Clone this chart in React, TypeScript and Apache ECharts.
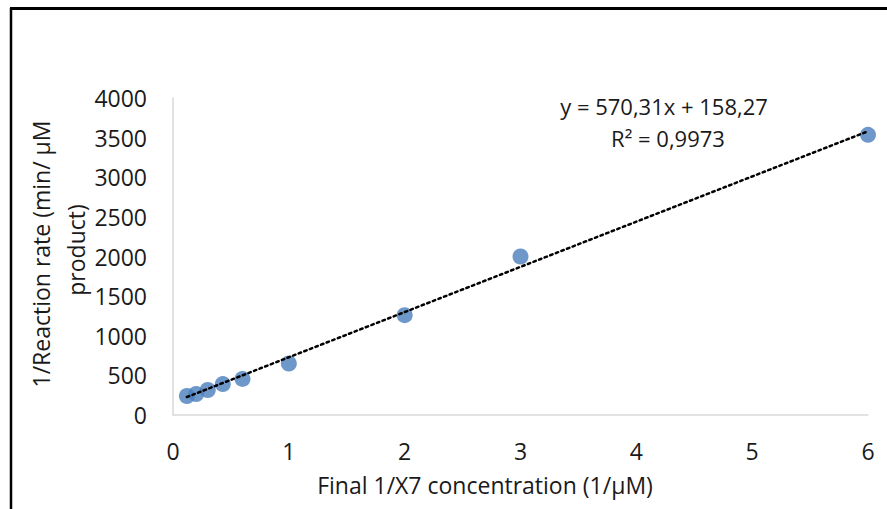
import React, { useEffect, useRef } from "react";
import * as echarts from "echarts";

const xValues = [0.12, 0.2, 0.3, 0.43, 0.6, 1, 2, 3, 6];
const yValues = [240, 265, 315, 390, 455, 650, 1260, 2000, 3535];
const trendSlope = 570.31;
const trendIntercept = 158.27;
const trendXRange = [0.12, 6];
const equationText = "y = 570,31x + 158,27";
const r2Text = "R² = 0,9973";
const xAxisTitle = "Final 1/X7 concentration (1/µM)";
const yAxisTitleLines = ["1/Reaction rate (min/ µM", "product)"];

const FONT = "'Open Sans', sans-serif";
const TEXT = "#1a1a1a";
const FS = 23;

export default function App() {
  const ref = useRef<HTMLDivElement>(null);
  useEffect(() => {
    if (!ref.current) return;
    const chart = echarts.init(ref.current, undefined, { renderer: "svg" });
    const points = xValues.map((x, i) => [x, yValues[i]]);
    const trend = trendXRange.map((x) => [x, trendSlope * x + trendIntercept]);
    chart.setOption({
      animation: false,
      backgroundColor: "#ffffff",
      grid: { left: 173, top: 98, right: 19, bottom: 94 },
      xAxis: {
        type: "value",
        min: 0,
        max: 6,
        interval: 1,
        axisLine: { show: true, lineStyle: { color: "#d9d9d9", width: 1.5 } },
        axisTick: { show: false },
        splitLine: { show: false },
        axisLabel: { color: TEXT, fontSize: FS, fontFamily: FONT, margin: 24, formatter: (v: number) => String(v) },
      },
      yAxis: {
        type: "value",
        min: 0,
        max: 4000,
        interval: 500,
        axisLine: { show: true, lineStyle: { color: "#d9d9d9", width: 1.5 } },
        axisTick: { show: false },
        splitLine: { show: false },
        axisLabel: { color: TEXT, fontSize: FS, fontFamily: FONT, margin: 26, formatter: (v: number) => String(v) },
      },
      series: [
        {
          type: "scatter",
          data: points,
          symbol: "circle",
          symbolSize: 16,
          itemStyle: { color: "#4a7ebb" },
          z: 2,
        },
        {
          type: "line",
          data: trend,
          symbol: "none",
          lineStyle: { color: "#000000", width: 2.5, type: [2.5, 3.5], cap: "round" },
          z: 3,
        },
      ],
      graphic: [
        {
          type: "line",
          shape: { x1: 11, y1: 8, x2: 11, y2: 509 },
          style: { stroke: "#000", lineWidth: 2.5 },
        },
        {
          type: "line",
          shape: { x1: 10, y1: 8.5, x2: 887, y2: 8.5 },
          style: { stroke: "#000", lineWidth: 3 },
        },
        {
          type: "text",
          x: 664,
          y: 106,
          style: { text: equationText, fill: TEXT, font: `22px ${FONT}`, textAlign: "center", textVerticalAlign: "middle" },
        },
        {
          type: "text",
          x: 668,
          y: 138,
          style: { text: r2Text, fill: TEXT, font: `22px ${FONT}`, textAlign: "center", textVerticalAlign: "middle" },
        },
        {
          type: "text",
          x: 485,
          y: 485,
          style: { text: xAxisTitle, fill: TEXT, font: `${FS}px ${FONT}`, textAlign: "center", textVerticalAlign: "middle" },
        },
        {
          type: "text",
          x: 41,
          y: 254,
          rotation: Math.PI / 2,
          style: { text: yAxisTitleLines[0], fill: TEXT, font: `${FS}px ${FONT}`, textAlign: "center", textVerticalAlign: "middle" },
        },
        {
          type: "text",
          x: 76,
          y: 250,
          rotation: Math.PI / 2,
          style: { text: yAxisTitleLines[1], fill: TEXT, font: `${FS}px ${FONT}`, textAlign: "center", textVerticalAlign: "middle" },
        },
      ],
    });
    return () => chart.dispose();
  }, []);
  return <div ref={ref} style={{ width: 887, height: 509, position: "absolute", left: 0, top: 0 }} />;
}
